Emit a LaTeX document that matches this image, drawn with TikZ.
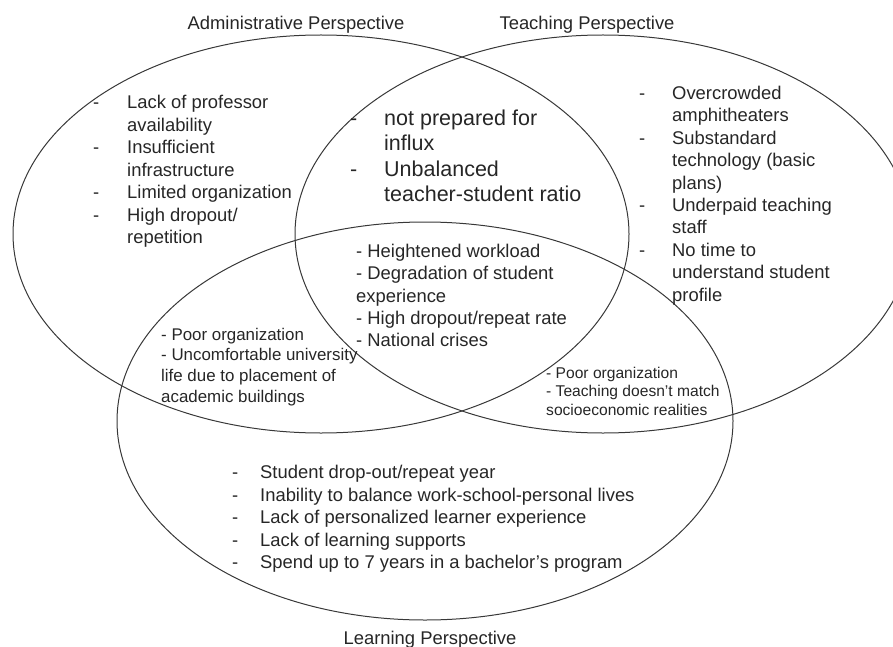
\documentclass[tikz,border=0pt]{standalone}
\usepackage{fontspec}
\setmainfont{Liberation Sans}
\usepackage{array}
\begin{document}
\begin{tikzpicture}[x=1pt, y=-1pt,
		ring/.style={line width=1pt, draw=black!78},
		txt/.style={anchor=base west, inner sep=0pt, text=black!85},
		head/.style={anchor=base, inner sep=0pt, text=black!85, font=\fontsize{18.4}{22}\selectfont}]
		\useasboundingbox (0,0) rectangle (893,647);
		\begin{scope}
		   \clip (0,0) rectangle (893,647);
		   \draw[ring] (321,234) ellipse (308 and 199);
		   \draw[ring] (603,234) ellipse (308 and 199);
		   \draw[ring] (425,421) ellipse (308 and 199);
		\end{scope}
		
		\node[head] (admintitle) at (296,29.6) {Administrative Perspective};
		\node[head] (teachtitle) at (587,29.6) {Teaching Perspective};
		\node[head] (learntitle) at (430,644.6) {Learning Perspective};
		
		\node[txt, font=\fontsize{18.4}{22.5}\selectfont] (adminlist) at (93,108.6) {\begin{tabular}[t]{@{}p{34pt}@{}l@{}}
			- & Lack of professor\\ & availability\\
			- & Insufficient\\ & infrastructure\\
			- & Limited organization\\
			- & High dropout/\\ & repetition
		\end{tabular}};
		\node[txt, font=\fontsize{21.5}{25.3}\selectfont] (admteach) at (350,125.7) {\begin{tabular}[t]{@{}p{34pt}@{}l@{}}
			- & not prepared for\\ & influx\\
			- & Unbalanced\\ & teacher-student ratio
		\end{tabular}};
		\node[txt, font=\fontsize{18.4}{22.4}\selectfont] (teachlist) at (639,99.6) {\begin{tabular}[t]{@{}p{33pt}@{}l@{}}
			- & Overcrowded\\ & amphitheaters\\
			- & Substandard\\ & technology (basic\\ & plans)\\
			- & Underpaid teaching\\ & staff\\
			- & No time to\\ & understand student\\ & profile
		\end{tabular}};
		\node[txt, font=\fontsize{18.4}{22.3}\selectfont] (core) at (356,257.6) {\begin{tabular}[t]{@{}l@{}}
			- Heightened workload\\
			- Degradation of student\\ experience\\
			- High dropout/repeat rate\\
			- National crises
		\end{tabular}};
		\node[txt, font=\fontsize{16.9}{20.7}\selectfont] (admlearn) at (161,340) {\begin{tabular}[t]{@{}l@{}}
			- Poor organization\\
			- Uncomfortable university\\ life due to placement of\\ academic buildings
		\end{tabular}};
		\node[txt, font=\fontsize{15.6}{18.3}\selectfont] (teachlearn) at (546,378.6) {\begin{tabular}[t]{@{}l@{}}
			- Poor organization\\
			- Teaching doesn’t match\\ socioeconomic realities
		\end{tabular}};
		\node[txt, font=\fontsize{18.4}{22.5}\selectfont] (learnlist) at (232,478.6) {\begin{tabular}[t]{@{}p{28pt}@{}l@{}}
			- & Student drop-out/repeat year\\
			- & Inability to balance work-school-personal lives\\
			- & Lack of personalized learner experience\\
			- & Lack of learning supports\\
			- & Spend up to 7 years in a bachelor’s program
		\end{tabular}};
	\end{tikzpicture}
\end{document}
